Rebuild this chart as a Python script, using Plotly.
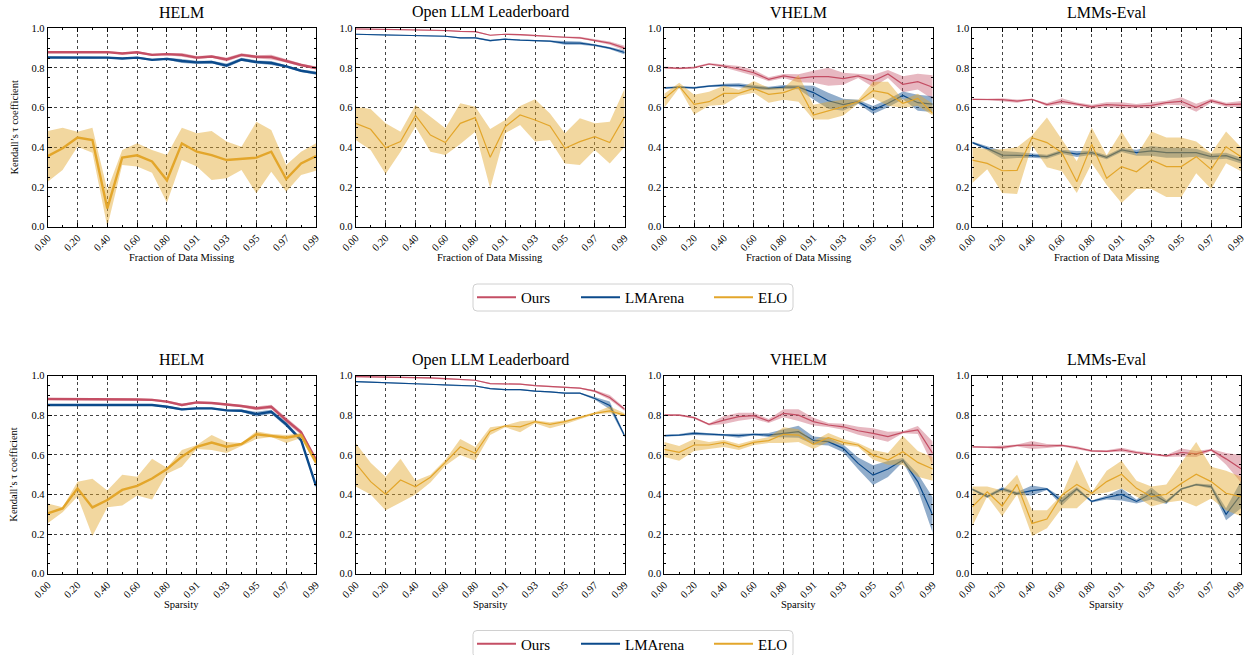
import plotly.graph_objects as go

# ---------------- data ----------------
FRACTIONS = ["0.00", "0.10", "0.20", "0.30", "0.40", "0.50", "0.60", "0.70", "0.80", "0.90",
             "0.91", "0.92", "0.93", "0.94", "0.95", "0.96", "0.97", "0.98", "0.99"]
TICK_LABELS = ["0.00", "0.20", "0.40", "0.60", "0.80", "0.91", "0.93", "0.95", "0.97", "0.99"]
BENCHMARKS = ["HELM", "Open LLM Leaderboard", "VHELM", "LMMs-Eval"]
ROW_XTITLES = ["Fraction of Data Missing", "Sparsity"]
SERIES = ["Ours", "LMArena", "ELO"]

# ---- Row 1: fraction of data missing ----
HELM_MISS_OURS = [0.879, 0.879, 0.879, 0.879, 0.880, 0.873, 0.879, 0.866, 0.870, 0.866, 0.852, 0.858, 0.843, 0.866, 0.856, 0.855, 0.836, 0.815, 0.800]
HELM_MISS_OURS_ERR = [0.004, 0.004, 0.004, 0.004, 0.005, 0.005, 0.005, 0.006, 0.006, 0.010, 0.008, 0.006, 0.010, 0.008, 0.008, 0.012, 0.008, 0.008, 0.008]
HELM_MISS_ARENA = [0.853, 0.853, 0.852, 0.851, 0.852, 0.848, 0.852, 0.841, 0.846, 0.835, 0.828, 0.830, 0.812, 0.843, 0.830, 0.825, 0.808, 0.786, 0.774]
HELM_MISS_ARENA_ERR = [0.004, 0.004, 0.004, 0.004, 0.004, 0.004, 0.004, 0.005, 0.005, 0.010, 0.008, 0.006, 0.010, 0.008, 0.008, 0.010, 0.006, 0.006, 0.008]
HELM_MISS_ELO = [0.356, 0.395, 0.449, 0.437, 0.092, 0.348, 0.360, 0.329, 0.234, 0.420, 0.378, 0.361, 0.336, 0.341, 0.348, 0.378, 0.240, 0.319, 0.356]
HELM_MISS_ELO_LO = [0.227, 0.286, 0.403, 0.373, 0.000, 0.311, 0.303, 0.272, 0.121, 0.336, 0.303, 0.235, 0.244, 0.286, 0.168, 0.277, 0.176, 0.260, 0.282]
HELM_MISS_ELO_HI = [0.482, 0.499, 0.479, 0.499, 0.185, 0.387, 0.420, 0.387, 0.361, 0.499, 0.471, 0.482, 0.429, 0.403, 0.529, 0.487, 0.311, 0.378, 0.420]

OLL_MISS_OURS = [0.997, 0.996, 0.995, 0.994, 0.993, 0.991, 0.989, 0.984, 0.983, 0.965, 0.970, 0.968, 0.963, 0.960, 0.955, 0.952, 0.940, 0.925, 0.900]
OLL_MISS_OURS_ERR = [0.003, 0.003, 0.003, 0.003, 0.003, 0.003, 0.003, 0.003, 0.003, 0.003, 0.003, 0.003, 0.003, 0.003, 0.004, 0.005, 0.006, 0.008, 0.012]
OLL_MISS_ARENA = [0.970, 0.968, 0.966, 0.965, 0.965, 0.962, 0.960, 0.952, 0.952, 0.938, 0.945, 0.940, 0.937, 0.935, 0.925, 0.925, 0.915, 0.900, 0.878]
OLL_MISS_ARENA_ERR = [0.003, 0.003, 0.003, 0.003, 0.003, 0.003, 0.003, 0.003, 0.004, 0.004, 0.003, 0.003, 0.003, 0.004, 0.008, 0.008, 0.005, 0.006, 0.010]
OLL_MISS_ELO = [0.521, 0.491, 0.398, 0.429, 0.561, 0.462, 0.424, 0.521, 0.550, 0.350, 0.504, 0.563, 0.538, 0.508, 0.395, 0.429, 0.454, 0.424, 0.555]
OLL_MISS_ELO_LO = [0.437, 0.387, 0.266, 0.378, 0.504, 0.378, 0.361, 0.417, 0.479, 0.193, 0.471, 0.513, 0.429, 0.437, 0.319, 0.311, 0.387, 0.319, 0.403]
OLL_MISS_ELO_HI = [0.605, 0.593, 0.521, 0.479, 0.613, 0.555, 0.496, 0.622, 0.605, 0.492, 0.538, 0.608, 0.642, 0.571, 0.471, 0.546, 0.521, 0.529, 0.697]

VHELM_MISS_OURS = [0.802, 0.798, 0.802, 0.820, 0.810, 0.795, 0.776, 0.743, 0.760, 0.748, 0.756, 0.756, 0.746, 0.760, 0.734, 0.770, 0.718, 0.731, 0.703]
VHELM_MISS_OURS_ERR = [0.005, 0.005, 0.005, 0.005, 0.008, 0.015, 0.015, 0.010, 0.010, 0.020, 0.030, 0.045, 0.030, 0.010, 0.030, 0.020, 0.040, 0.040, 0.060]
VHELM_MISS_ARENA = [0.699, 0.703, 0.700, 0.709, 0.713, 0.713, 0.703, 0.697, 0.704, 0.703, 0.676, 0.635, 0.615, 0.630, 0.588, 0.622, 0.662, 0.625, 0.618]
VHELM_MISS_ARENA_ERR = [0.005, 0.005, 0.005, 0.005, 0.008, 0.010, 0.010, 0.008, 0.010, 0.010, 0.035, 0.040, 0.030, 0.010, 0.020, 0.020, 0.020, 0.040, 0.040]
VHELM_MISS_ELO = [0.645, 0.709, 0.617, 0.630, 0.672, 0.672, 0.697, 0.667, 0.676, 0.703, 0.563, 0.583, 0.605, 0.630, 0.686, 0.672, 0.622, 0.647, 0.571]
VHELM_MISS_ELO_LO = [0.600, 0.700, 0.565, 0.610, 0.615, 0.660, 0.675, 0.625, 0.640, 0.630, 0.540, 0.540, 0.560, 0.620, 0.650, 0.610, 0.600, 0.610, 0.560]
VHELM_MISS_ELO_HI = [0.670, 0.725, 0.665, 0.680, 0.710, 0.690, 0.735, 0.700, 0.700, 0.765, 0.615, 0.630, 0.640, 0.640, 0.730, 0.730, 0.640, 0.670, 0.620]

LMMS_MISS_OURS = [0.642, 0.641, 0.640, 0.633, 0.642, 0.615, 0.632, 0.618, 0.605, 0.615, 0.612, 0.608, 0.612, 0.625, 0.632, 0.600, 0.635, 0.615, 0.618]
LMMS_MISS_OURS_ERR = [0.003, 0.003, 0.008, 0.008, 0.003, 0.008, 0.015, 0.008, 0.010, 0.012, 0.015, 0.010, 0.015, 0.010, 0.020, 0.020, 0.010, 0.010, 0.015]
LMMS_MISS_ARENA = [0.424, 0.395, 0.361, 0.361, 0.358, 0.353, 0.378, 0.366, 0.373, 0.350, 0.387, 0.373, 0.382, 0.373, 0.373, 0.373, 0.353, 0.358, 0.333]
LMMS_MISS_ARENA_ERR = [0.005, 0.010, 0.020, 0.015, 0.010, 0.010, 0.010, 0.015, 0.010, 0.010, 0.010, 0.015, 0.025, 0.025, 0.025, 0.020, 0.015, 0.015, 0.015]
LMMS_MISS_ELO = [0.336, 0.319, 0.282, 0.284, 0.449, 0.424, 0.373, 0.227, 0.415, 0.244, 0.303, 0.277, 0.336, 0.303, 0.303, 0.353, 0.289, 0.403, 0.353]
LMMS_MISS_ELO_LO = [0.220, 0.290, 0.170, 0.165, 0.410, 0.300, 0.280, 0.170, 0.320, 0.210, 0.120, 0.190, 0.190, 0.150, 0.150, 0.270, 0.190, 0.320, 0.280]
LMMS_MISS_ELO_HI = [0.400, 0.390, 0.390, 0.400, 0.460, 0.550, 0.440, 0.330, 0.500, 0.360, 0.480, 0.360, 0.480, 0.450, 0.450, 0.430, 0.370, 0.480, 0.400]

# ---- Row 2: sparsity ----
HELM_SPAR_OURS = [0.882, 0.882, 0.882, 0.880, 0.880, 0.880, 0.880, 0.878, 0.869, 0.852, 0.865, 0.862, 0.855, 0.847, 0.835, 0.843, 0.776, 0.714, 0.574]
HELM_SPAR_OURS_ERR = [0.005, 0.005, 0.005, 0.005, 0.005, 0.005, 0.005, 0.005, 0.006, 0.006, 0.005, 0.005, 0.005, 0.006, 0.010, 0.010, 0.015, 0.012, 0.015]
HELM_SPAR_ARENA = [0.852, 0.852, 0.853, 0.852, 0.852, 0.853, 0.853, 0.852, 0.843, 0.830, 0.835, 0.835, 0.825, 0.823, 0.806, 0.818, 0.754, 0.675, 0.444]
HELM_SPAR_ARENA_ERR = [0.004, 0.004, 0.004, 0.004, 0.004, 0.004, 0.004, 0.004, 0.005, 0.006, 0.005, 0.005, 0.005, 0.006, 0.012, 0.010, 0.012, 0.010, 0.010]
HELM_SPAR_ELO = [0.305, 0.330, 0.431, 0.335, 0.372, 0.423, 0.444, 0.481, 0.529, 0.591, 0.641, 0.662, 0.641, 0.655, 0.704, 0.697, 0.687, 0.700, 0.562]
HELM_SPAR_ELO_LO = [0.255, 0.310, 0.390, 0.190, 0.335, 0.345, 0.395, 0.375, 0.505, 0.540, 0.630, 0.625, 0.610, 0.645, 0.680, 0.690, 0.660, 0.685, 0.545]
HELM_SPAR_ELO_HI = [0.355, 0.335, 0.465, 0.480, 0.420, 0.500, 0.490, 0.580, 0.535, 0.625, 0.650, 0.700, 0.665, 0.660, 0.720, 0.705, 0.700, 0.710, 0.575]

OLL_SPAR_OURS = [0.995, 0.994, 0.993, 0.991, 0.990, 0.989, 0.985, 0.980, 0.977, 0.960, 0.957, 0.957, 0.950, 0.945, 0.940, 0.937, 0.922, 0.890, 0.830]
OLL_SPAR_OURS_ERR = [0.003, 0.003, 0.003, 0.003, 0.003, 0.003, 0.003, 0.003, 0.003, 0.003, 0.003, 0.003, 0.003, 0.003, 0.003, 0.003, 0.006, 0.012, 0.008]
OLL_SPAR_ARENA = [0.970, 0.967, 0.965, 0.963, 0.960, 0.958, 0.952, 0.950, 0.948, 0.935, 0.930, 0.930, 0.922, 0.918, 0.912, 0.912, 0.885, 0.850, 0.695]
OLL_SPAR_ARENA_ERR = [0.003, 0.003, 0.003, 0.003, 0.003, 0.003, 0.003, 0.003, 0.003, 0.003, 0.003, 0.003, 0.003, 0.003, 0.003, 0.003, 0.006, 0.020, 0.008]
OLL_SPAR_ELO = [0.557, 0.465, 0.401, 0.473, 0.439, 0.487, 0.562, 0.641, 0.608, 0.720, 0.747, 0.742, 0.768, 0.754, 0.768, 0.788, 0.810, 0.822, 0.801]
OLL_SPAR_ELO_LO = [0.440, 0.400, 0.320, 0.360, 0.400, 0.460, 0.545, 0.600, 0.570, 0.700, 0.740, 0.715, 0.760, 0.735, 0.755, 0.780, 0.805, 0.810, 0.795]
OLL_SPAR_ELO_HI = [0.660, 0.560, 0.490, 0.580, 0.470, 0.500, 0.575, 0.680, 0.640, 0.740, 0.750, 0.770, 0.775, 0.765, 0.775, 0.795, 0.815, 0.845, 0.810]

VHELM_SPAR_OURS = [0.801, 0.801, 0.788, 0.754, 0.776, 0.793, 0.798, 0.771, 0.810, 0.801, 0.768, 0.751, 0.742, 0.722, 0.709, 0.692, 0.714, 0.726, 0.608]
VHELM_SPAR_OURS_ERR = [0.005, 0.005, 0.005, 0.005, 0.020, 0.020, 0.015, 0.010, 0.020, 0.030, 0.020, 0.010, 0.015, 0.020, 0.025, 0.025, 0.005, 0.020, 0.060]
VHELM_SPAR_ARENA = [0.697, 0.700, 0.709, 0.704, 0.700, 0.697, 0.704, 0.700, 0.709, 0.717, 0.673, 0.667, 0.633, 0.557, 0.498, 0.529, 0.574, 0.465, 0.296]
VHELM_SPAR_ARENA_ERR = [0.005, 0.005, 0.008, 0.005, 0.005, 0.010, 0.005, 0.010, 0.020, 0.030, 0.020, 0.020, 0.020, 0.030, 0.050, 0.040, 0.010, 0.040, 0.090]
VHELM_SPAR_ELO = [0.628, 0.613, 0.650, 0.650, 0.663, 0.641, 0.663, 0.672, 0.704, 0.700, 0.653, 0.687, 0.663, 0.650, 0.599, 0.574, 0.616, 0.562, 0.529]
VHELM_SPAR_ELO_LO = [0.590, 0.570, 0.620, 0.630, 0.640, 0.625, 0.650, 0.660, 0.660, 0.665, 0.630, 0.665, 0.650, 0.640, 0.575, 0.550, 0.550, 0.490, 0.470]
VHELM_SPAR_ELO_HI = [0.665, 0.645, 0.680, 0.665, 0.675, 0.655, 0.675, 0.690, 0.740, 0.730, 0.670, 0.710, 0.680, 0.660, 0.625, 0.610, 0.695, 0.620, 0.590]

LMMS_SPAR_OURS = [0.641, 0.638, 0.638, 0.648, 0.650, 0.645, 0.648, 0.636, 0.620, 0.618, 0.626, 0.612, 0.605, 0.595, 0.612, 0.605, 0.625, 0.580, 0.530]
LMMS_SPAR_OURS_ERR = [0.003, 0.003, 0.010, 0.005, 0.020, 0.010, 0.005, 0.008, 0.005, 0.005, 0.010, 0.008, 0.005, 0.005, 0.020, 0.015, 0.005, 0.030, 0.070]
LMMS_SPAR_ARENA = [0.426, 0.390, 0.428, 0.405, 0.420, 0.428, 0.365, 0.428, 0.365, 0.385, 0.400, 0.365, 0.405, 0.362, 0.428, 0.450, 0.440, 0.300, 0.400]
LMMS_SPAR_ARENA_ERR = [0.005, 0.008, 0.010, 0.008, 0.025, 0.005, 0.020, 0.010, 0.005, 0.010, 0.030, 0.010, 0.030, 0.010, 0.005, 0.005, 0.010, 0.030, 0.070]
LMMS_SPAR_ELO = [0.338, 0.414, 0.342, 0.451, 0.254, 0.276, 0.397, 0.451, 0.406, 0.465, 0.502, 0.431, 0.389, 0.401, 0.456, 0.502, 0.465, 0.406, 0.389]
LMMS_SPAR_ELO_LO = [0.240, 0.390, 0.290, 0.400, 0.190, 0.230, 0.330, 0.330, 0.400, 0.410, 0.430, 0.390, 0.340, 0.360, 0.370, 0.340, 0.380, 0.320, 0.290]
LMMS_SPAR_ELO_HI = [0.440, 0.440, 0.420, 0.500, 0.320, 0.320, 0.400, 0.575, 0.410, 0.520, 0.570, 0.470, 0.440, 0.450, 0.560, 0.665, 0.540, 0.520, 0.490]

# ---------------- styling ----------------
FONT = "Liberation Serif"
COLORS = {"Ours": "#c44e64", "LMArena": "#0b4a8b", "ELO": "#e3a62b"}
BANDS = {"Ours": "rgba(196,78,100,0.40)", "LMArena": "rgba(11,74,139,0.45)", "ELO": "rgba(227,166,43,0.45)"}

X_DOMAINS = [(47.7, 316.0), (355.7, 624.7), (664.3, 932.7), (972.3, 1241.0)]
Y_DOMAINS_PX = [(28.3, 226.7), (375.7, 573.7)]
LEGEND_Y_PX = [297.5, 644.0]
LEGEND_ITEM_X_PX = [478, 582, 715]
LEGEND_BOX_X_PX = (473, 793)
W, H = 1250, 655

panels = [
    [  # row 1
        (HELM_MISS_OURS, HELM_MISS_OURS_ERR, HELM_MISS_ARENA, HELM_MISS_ARENA_ERR, HELM_MISS_ELO, HELM_MISS_ELO_LO, HELM_MISS_ELO_HI),
        (OLL_MISS_OURS, OLL_MISS_OURS_ERR, OLL_MISS_ARENA, OLL_MISS_ARENA_ERR, OLL_MISS_ELO, OLL_MISS_ELO_LO, OLL_MISS_ELO_HI),
        (VHELM_MISS_OURS, VHELM_MISS_OURS_ERR, VHELM_MISS_ARENA, VHELM_MISS_ARENA_ERR, VHELM_MISS_ELO, VHELM_MISS_ELO_LO, VHELM_MISS_ELO_HI),
        (LMMS_MISS_OURS, LMMS_MISS_OURS_ERR, LMMS_MISS_ARENA, LMMS_MISS_ARENA_ERR, LMMS_MISS_ELO, LMMS_MISS_ELO_LO, LMMS_MISS_ELO_HI),
    ],
    [  # row 2
        (HELM_SPAR_OURS, HELM_SPAR_OURS_ERR, HELM_SPAR_ARENA, HELM_SPAR_ARENA_ERR, HELM_SPAR_ELO, HELM_SPAR_ELO_LO, HELM_SPAR_ELO_HI),
        (OLL_SPAR_OURS, OLL_SPAR_OURS_ERR, OLL_SPAR_ARENA, OLL_SPAR_ARENA_ERR, OLL_SPAR_ELO, OLL_SPAR_ELO_LO, OLL_SPAR_ELO_HI),
        (VHELM_SPAR_OURS, VHELM_SPAR_OURS_ERR, VHELM_SPAR_ARENA, VHELM_SPAR_ARENA_ERR, VHELM_SPAR_ELO, VHELM_SPAR_ELO_LO, VHELM_SPAR_ELO_HI),
        (LMMS_SPAR_OURS, LMMS_SPAR_OURS_ERR, LMMS_SPAR_ARENA, LMMS_SPAR_ARENA_ERR, LMMS_SPAR_ELO, LMMS_SPAR_ELO_LO, LMMS_SPAR_ELO_HI),
    ],
]

x = list(range(len(FRACTIONS)))
tickvals = [FRACTIONS.index(t) for t in TICK_LABELS]

fig = go.Figure()
layout = dict(
    width=W, height=H, margin=dict(l=0, r=0, t=0, b=0, autoexpand=False),
    paper_bgcolor="white", plot_bgcolor="white",
    font=dict(family=FONT, size=11, color="black"),
    annotations=[], shapes=[],
)

for r in range(2):
    for c in range(4):
        k = r * 4 + c + 1
        xa = "xaxis" if k == 1 else f"xaxis{k}"
        ya = "yaxis" if k == 1 else f"yaxis{k}"
        xref = "x" if k == 1 else f"x{k}"
        yref = "y" if k == 1 else f"y{k}"
        x0, x1 = X_DOMAINS[c]
        ytop, ybot = Y_DOMAINS_PX[r]
        layout[xa] = dict(
            domain=[x0 / W, x1 / W], anchor=yref, range=[0, len(FRACTIONS) - 1], automargin=False,
            tickmode="array", tickvals=tickvals, ticktext=TICK_LABELS, tickangle=-45,
            ticks="inside", ticklen=4, tickcolor="black", mirror="allticks",
            showline=True, linecolor="black", linewidth=1,
            showgrid=True, gridcolor="#444", griddash="dot", gridwidth=0.7,
            zeroline=False, tickfont=dict(size=10.5, family=FONT),
            minor=dict(tickmode="linear", tick0=0, dtick=1, ticks="inside", ticklen=2, tickcolor="black", showgrid=False),
        )
        layout[ya] = dict(
            domain=[1 - ybot / H, 1 - ytop / H], anchor=xref, range=[0, 1], automargin=False,
            tickmode="linear", tick0=0, dtick=0.2, tickformat=".1f",
            ticks="inside", ticklen=4, tickcolor="black", mirror="allticks",
            showline=True, linecolor="black", linewidth=1,
            showgrid=True, gridcolor="#444", griddash="dot", gridwidth=0.7,
            zeroline=False, tickfont=dict(size=10.5, family=FONT),
            minor=dict(tickmode="linear", tick0=0, dtick=0.05, ticks="inside", ticklen=2, tickcolor="black", showgrid=False),
        )
        layout["annotations"].append(dict(
            text=BENCHMARKS[c], xref="paper", yref="paper", x=(x0 + x1) / 2 / W, y=1 - (ytop - 16) / H,
            xanchor="center", yanchor="middle", showarrow=False, font=dict(size=16, family=FONT),
        ))
        layout["annotations"].append(dict(
            text=ROW_XTITLES[r], xref="paper", yref="paper", x=(x0 + x1) / 2 / W, y=1 - (ybot + 31) / H,
            xanchor="center", yanchor="middle", showarrow=False, font=dict(size=10.5, family=FONT),
        ))
        if c == 0:
            layout["annotations"].append(dict(
                text="Kendall’s τ coefficient", xref="paper", yref="paper", x=14 / W,
                y=1 - (ytop + ybot) / 2 / H, xanchor="center", yanchor="middle", textangle=-90,
                showarrow=False, font=dict(size=10.5, family=FONT),
            ))

        ours, ours_err, arena, arena_err, elo, elo_lo, elo_hi = panels[r][c]
        lw = 2.4 if c == 0 else 1.2
        series_data = [
            ("Ours", ours, [m - e for m, e in zip(ours, ours_err)], [m + e for m, e in zip(ours, ours_err)]),
            ("LMArena", arena, [m - e for m, e in zip(arena, arena_err)], [m + e for m, e in zip(arena, arena_err)]),
            ("ELO", elo, elo_lo, elo_hi),
        ]
        for name, mean, lo, hi in series_data:
            fig.add_trace(go.Scatter(
                x=x + x[::-1], y=hi + lo[::-1], fill="toself", fillcolor=BANDS[name],
                line=dict(width=0), mode="lines", hoverinfo="skip", showlegend=False,
                xaxis=xref, yaxis=yref,
            ))
            fig.add_trace(go.Scatter(
                x=x, y=mean, mode="lines", line=dict(color=COLORS[name], width=lw),
                name=name, showlegend=False, xaxis=xref, yaxis=yref,
            ))

# legends: one small legend per entry so spacing follows the reference; a rounded frame around each row's set
n_leg = 0
for r in range(2):
    yc = LEGEND_Y_PX[r]
    for i, name in enumerate(SERIES):
        n_leg += 1
        key = "legend" if n_leg == 1 else f"legend{n_leg}"
        fig.add_trace(go.Scatter(
            x=[None], y=[None], mode="lines", line=dict(color=COLORS[name], width=1.8),
            name=name, showlegend=True, legend=key, xaxis="x", yaxis="y",
        ))
        layout[key] = dict(
            orientation="h", xanchor="left", yanchor="middle",
            x=(LEGEND_ITEM_X_PX[i] - 6) / W, y=1 - yc / H, itemwidth=39,
            font=dict(size=15, family=FONT), borderwidth=0, bgcolor="rgba(0,0,0,0)",
        )
    bx0, bx1 = LEGEND_BOX_X_PX
    by0, by1 = yc - 13.5, yc + 13.5
    rad = 4
    px = lambda v: v / W
    py = lambda v: 1 - v / H
    path = (f"M {px(bx0 + rad)},{py(by0)} L {px(bx1 - rad)},{py(by0)} "
            f"Q {px(bx1)},{py(by0)} {px(bx1)},{py(by0 + rad)} L {px(bx1)},{py(by1 - rad)} "
            f"Q {px(bx1)},{py(by1)} {px(bx1 - rad)},{py(by1)} L {px(bx0 + rad)},{py(by1)} "
            f"Q {px(bx0)},{py(by1)} {px(bx0)},{py(by1 - rad)} L {px(bx0)},{py(by0 + rad)} "
            f"Q {px(bx0)},{py(by0)} {px(bx0 + rad)},{py(by0)} Z")
    layout["shapes"].append(dict(type="path", path=path, xref="paper", yref="paper",
                                 line=dict(color="#d0d0d0", width=1), fillcolor="rgba(0,0,0,0)", layer="below"))

fig.update_layout(**layout)
fig.write_html("out.html", config={"displayModeBar": False},
               post_script="document.body.style.margin='0px';document.body.style.overflow='hidden';")
